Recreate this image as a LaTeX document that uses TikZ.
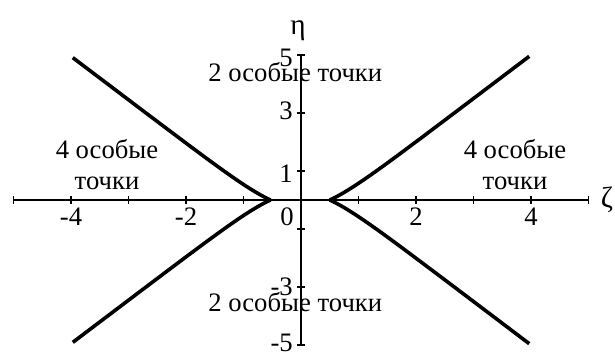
\documentclass[tikz,border=0pt]{standalone}
\usepackage{fontspec}
\setmainfont{Liberation Serif}
\begin{document}
\begin{tikzpicture}[x=43.125pt,y=21.75pt,
  axisline/.style={line width=0.8pt},
  branch/.style={line width=2.7pt},
  lbl/.style={font=\fontsize{20}{23}\selectfont, inner sep=0pt},
  xlbl/.style={lbl, anchor=base},
  ylbl/.style={lbl, anchor=base east}]
\useasboundingbox (-5.235,-5.207) rectangle (5.461,6.897);
% axes
\coordinate (xl) at (-5,0);
\coordinate (xr) at (5,0);
\coordinate (yb) at (0,-5);
\coordinate (yt) at (0,5);
\draw[axisline] (xl) -- (xr);
\draw[axisline] (yb) -- (yt);
\foreach \i in {-5,...,5}
  \draw[axisline] (\i,-0.138) -- (\i,0.138);
\foreach \j in {-5,-3,-1,1,3,5}
  \draw[axisline] (-0.061,\j) -- (0.061,\j);
% axis names
\node[lbl,font=\fontsize{22}{24}\selectfont] (eta) at (-0.052,5.83) {η};
\node[lbl,font=\fontsize{22}{24}\selectfont] (zeta) at (5.32,0) {ζ};
% tick labels
\node[xlbl] (xm4) at (-4,-0.862) {-4};
\node[xlbl] (xm2) at (-2,-0.862) {-2};
\node[xlbl] (xp2) at (2,-0.862) {2};
\node[xlbl] (xp4) at (4,-0.862) {4};
\node[xlbl] (x0) at (-0.243,-0.862) {0};
\node[ylbl] (y5) at (-0.139,4.59) {5};
\node[ylbl] (y3) at (-0.139,2.76) {3};
\node[ylbl] (y1) at (-0.139,0.62) {1};
\node[ylbl] (ym3) at (-0.139,-3.28) {-3};
\node[ylbl] (ym5) at (-0.139,-5.24) {-5};
% region texts
\node[xlbl] (top) at (-0.10,4.07) {2 особые точки};
\node[xlbl] (bot) at (-0.10,-3.85) {2 особые точки};
\node[xlbl] (l1) at (-3.374,1.448) {4 особые};
\node[xlbl] (l2) at (-3.374,0.379) {точки};
\node[xlbl] (r1) at (3.722,1.448) {4 особые};
\node[xlbl] (r2) at (3.722,0.379) {точки};
% branches
\draw[branch] plot[domain=0:3.47,samples=80,smooth] ({0.5+\x},{1.5*\x-0.25*(1-exp(-2.4*\x))});
\draw[branch] plot[domain=0:3.47,samples=80,smooth] ({0.5+\x},{-1.5*\x+0.25*(1-exp(-2.4*\x))});
\draw[branch] plot[domain=0:3.44,samples=80,smooth] ({-0.53-\x},{1.5*\x-0.25*(1-exp(-2.4*\x))});
\draw[branch] plot[domain=0:3.44,samples=80,smooth] ({-0.53-\x},{-1.5*\x+0.25*(1-exp(-2.4*\x))});
\end{tikzpicture}
\end{document}
